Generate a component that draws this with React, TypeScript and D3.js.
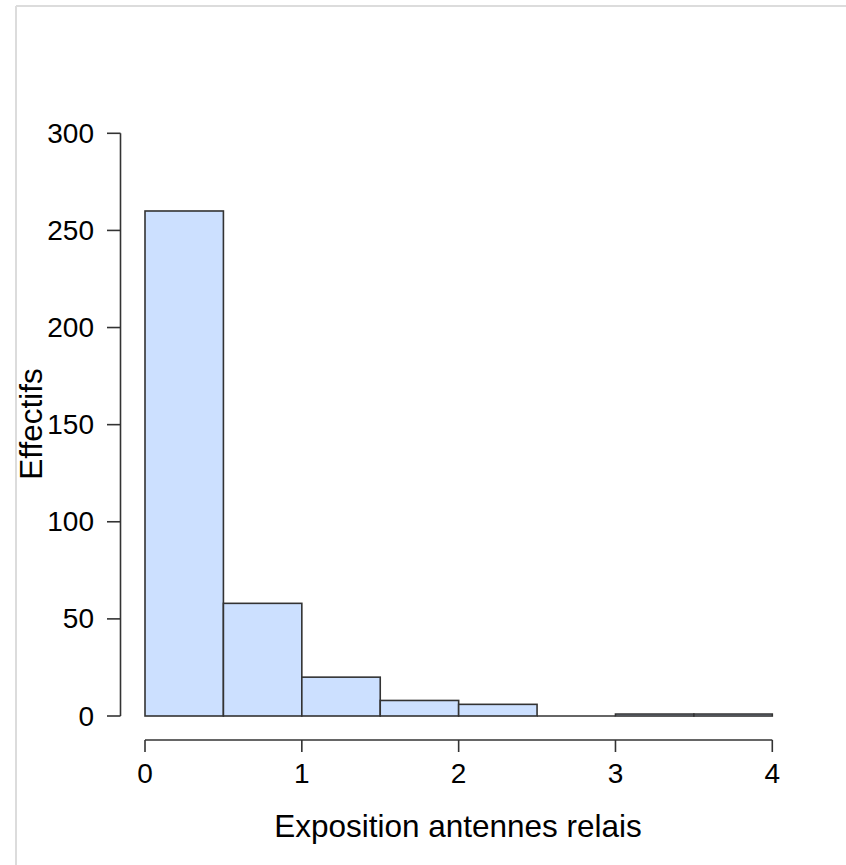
import React from "react";
import * as d3 from "d3";

// histogram bins (Exposition antennes relais) and counts
const binEdges = [0, 0.5, 1, 1.5, 2, 2.5, 3, 3.5, 4];
const counts = [260, 58, 20, 8, 6, 0, 1, 1];
const xTicks = [0, 1, 2, 3, 4];
const yTicks = [0, 50, 100, 150, 200, 250, 300];

const width = 846;
const height = 865;
const font = "Liberation Sans, Arial, sans-serif";

export default function App() {
  const x = d3.scaleLinear().domain([0, 4]).range([145, 772.3]);
  const y = d3.scaleLinear().domain([0, 300]).range([716, 133.3]);

  const bins = counts.map((count, i) => ({
    x0: binEdges[i],
    x1: binEdges[i + 1],
    count,
  }));

  const axisColor = "#333";
  const xAxisY = 740;
  const yAxisX = 120.5;

  return (
    <svg
      width={width}
      height={height}
      style={{ position: "absolute", left: 0, top: 0, background: "#fff" }}
    >
      {/* frame of the screenshot */}
      <line x1={16} x2={width} y1={6} y2={6} stroke="#dcdcdc" strokeWidth={2} />
      <line x1={16} x2={16} y1={6} y2={height} stroke="#dcdcdc" strokeWidth={2} />

      {/* bars (empty bins drawn as a flat line, like R) */}
      <g>
        {bins.map((b, i) =>
          b.count > 0 ? (
            <rect
              key={i}
              x={x(b.x0)}
              y={y(b.count)}
              width={x(b.x1) - x(b.x0)}
              height={y(0) - y(b.count)}
              fill="#cce0ff"
              stroke={axisColor}
              strokeWidth={1.6}
            />
          ) : (
            <line
              key={i}
              x1={x(b.x0)}
              x2={x(b.x1)}
              y1={y(0)}
              y2={y(0)}
              stroke={axisColor}
              strokeWidth={1.6}
            />
          ),
        )}
      </g>

      {/* y axis */}
      <g fontFamily={font} fontSize={28} fill="#000">
        <line
          x1={yAxisX}
          x2={yAxisX}
          y1={y(0)}
          y2={y(300)}
          stroke={axisColor}
          strokeWidth={1.6}
        />
        {yTicks.map((t) => (
          <g key={t}>
            <line
              x1={107}
              x2={yAxisX}
              y1={y(t)}
              y2={y(t)}
              stroke={axisColor}
              strokeWidth={1.6}
            />
            <text x={94} y={y(t)} textAnchor="end" dominantBaseline="central">
              {t}
            </text>
          </g>
        ))}
      </g>

      {/* x axis */}
      <g fontFamily={font} fontSize={28} fill="#000">
        <line
          x1={x(0)}
          x2={x(4)}
          y1={xAxisY}
          y2={xAxisY}
          stroke={axisColor}
          strokeWidth={1.6}
        />
        {xTicks.map((t) => (
          <g key={t}>
            <line
              x1={x(t)}
              x2={x(t)}
              y1={xAxisY}
              y2={752}
              stroke={axisColor}
              strokeWidth={1.6}
            />
            <text x={x(t)} y={783} textAnchor="middle">
              {t}
            </text>
          </g>
        ))}
      </g>

      {/* axis titles */}
      <text
        x={458}
        y={837}
        textAnchor="middle"
        fontFamily={font}
        fontSize={31.5}
        fill="#000"
      >
        Exposition antennes relais
      </text>
      <text
        transform={`translate(42,424) rotate(-90)`}
        textAnchor="middle"
        fontFamily={font}
        fontSize={31.5}
        fill="#000"
      >
        Effectifs
      </text>
    </svg>
  );
}
